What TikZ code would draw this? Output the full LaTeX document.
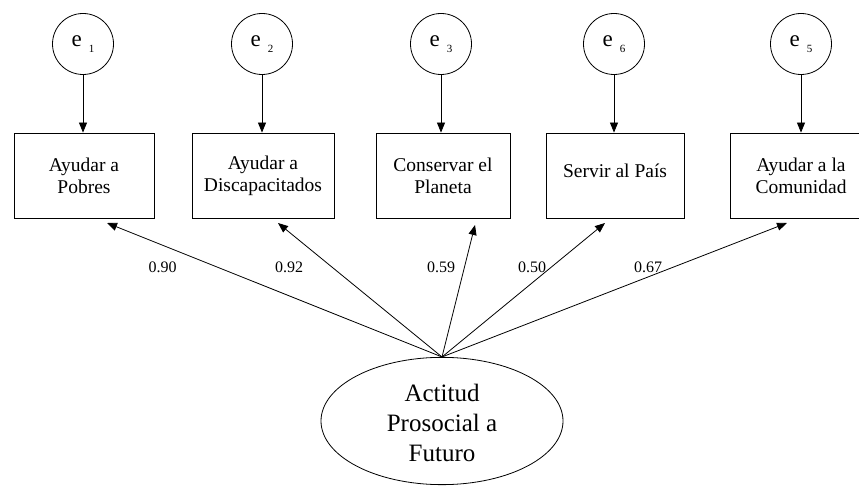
\documentclass[tikz,border=0pt]{standalone}
\usepackage{fontspec}
\setmainfont{Liberation Serif}
\usetikzlibrary{shapes.geometric,arrows.meta}
\begin{document}
\begin{tikzpicture}[x=1pt,y=1pt,
  obs/.style={draw, line width=0.8pt, minimum height=85pt, inner sep=0pt, align=center,
    font=\fontsize{19.5}{22}\selectfont},
  err/.style={draw, circle, line width=0.8pt, minimum size=61pt, inner sep=0pt},
  lat/.style={draw, ellipse, line width=0.8pt, minimum width=242pt, minimum height=126pt, inner sep=0pt,
    font=\fontsize{25}{30}\selectfont},
  arr/.style={line width=0.8pt, -{Triangle[length=10pt,width=8pt]}},
  ld/.style={font=\fontsize{16}{16}\selectfont, inner sep=0pt}
]
\useasboundingbox (0,0) rectangle (859,485);
\newcommand{\ee}[1]{\fontsize{23}{23}\selectfont e\hspace{7pt}\raisebox{-6pt}{\fontsize{11}{11}\selectfont #1}}
% error terms
\node[err] (e1) at (83,441) {\ee{1}};
\node[err] (e2) at (262,441) {\ee{2}};
\node[err] (e3) at (441,441) {\ee{3}};
\node[err] (e6) at (614,441) {\ee{6}};
\node[err] (e5) at (801,441) {\ee{5}};
% observed
\node[obs, minimum width=140pt] (b1) at (84,309.5) {Ayudar a\\Pobres};
\node[obs, minimum width=142pt] (b2) at (263,309.5) {Ayudar a\\Discapacitados};
\node[obs, minimum width=134pt] (b3) at (443,309.5) {Conservar el\\Planeta};
\node[obs, minimum width=138pt] (b4) at (615,309.5) {\raisebox{5pt}[\height][\depth]{Servir al País}};
\node[obs, minimum width=142pt] (b5) at (801,309.5) {Ayudar a la\\Comunidad};
% latent
\node[lat] (L) at (442,64) {\raisebox{-4pt}[\height][\depth]{\begin{tabular}{@{}c@{}}Actitud\\Prosocial a\\Futuro\end{tabular}}};
% error arrows
\draw[arr] (e1) -- (e1 |- b1.north);
\draw[arr] (e2) -- (e2 |- b2.north);
\draw[arr] (e3) -- (e3 |- b3.north);
\draw[arr] (e6) -- (e6 |- b4.north);
\draw[arr] (e5) -- (e5 |- b5.north);
% loadings
\coordinate (t1) at (107,262);
\coordinate (t2) at (278,262);
\coordinate (t3) at (475,260);
\coordinate (t4) at (605,262);
\coordinate (t5) at (787,262);
\draw[arr] (L.north) -- (t1);
\draw[arr] (L.north) -- (t2);
\draw[arr] (L.north) -- (t3);
\draw[arr] (L.north) -- (t4);
\draw[arr] (L.north) -- (t5);
\node[ld] (l1) at (162.5,218) {0.90};
\node[ld] (l2) at (289,218) {0.92};
\node[ld] (l3) at (441,218) {0.59};
\node[ld] (l4) at (532,218) {0.50};
\node[ld] (l5) at (648,218) {0.67};
\end{tikzpicture}
\end{document}
